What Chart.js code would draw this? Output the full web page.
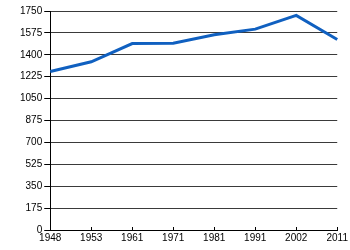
<!DOCTYPE html>
<html>
<head>
<meta charset="utf-8">
<script src="https://cdn.jsdelivr.net/npm/chart.js@4"></script>
<style>
html,body{margin:0;padding:0;background:#fff;}
#wrap{width:350px;height:250px;position:relative;}
</style>
</head>
<body>
<div id="wrap"><canvas id="c"></canvas></div>
<script>
const years = ['1948','1953','1961','1971','1981','1991','2002','2011'];
const population = [1267, 1344, 1490, 1492, 1560, 1605, 1715, 1522];
const yMin = 0;
const yMax = 1750;
const yStep = 175;

const innerTicks = {
  id: 'innerTicks',
  afterDatasetsDraw(chart) {
    const x = chart.scales.x;
    const ctx = chart.ctx;
    const bottom = chart.chartArea.bottom;
    ctx.save();
    ctx.strokeStyle = '#000';
    ctx.lineWidth = 1;
    ctx.beginPath();
    x.ticks.forEach((t, i) => {
      const px = Math.round(x.getPixelForTick(i)) + 0.5;
      ctx.moveTo(px, bottom - 3);
      ctx.lineTo(px, bottom + 1);
    });
    ctx.stroke();
    ctx.restore();
  }
};

new Chart(document.getElementById('c'), {
  type: 'line',
  data: {
    labels: years,
    datasets: [{
      data: population,
      borderColor: '#1060c0',
      borderWidth: 3,
      pointRadius: 0,
      tension: 0,
      fill: false
    }]
  },
  options: {
    responsive: true,
    maintainAspectRatio: false,
    animation: false,
    events: [],
    layout: { padding: { left: 18, right: 5, top: 11, bottom: 4 } },
    plugins: { legend: { display: false }, tooltip: { enabled: false } },
    scales: {
      x: {
        type: 'category',
        offset: false,
        grid: { display: true, drawOnChartArea: false, drawTicks: false },
        border: { display: true, color: '#000', width: 1 },
        ticks: { color: '#000', font: { family: 'Liberation Sans, Arial, sans-serif', size: 10 }, padding: 2, maxRotation: 0, autoSkip: false }
      },
      y: {
        min: yMin,
        max: yMax,
        grid: { color: '#3a3a3a', lineWidth: 1, drawTicks: true, tickLength: 6, tickColor: '#000' },
        border: { display: true, color: '#000', width: 1 },
        ticks: { stepSize: yStep, color: '#000', font: { family: 'Liberation Sans, Arial, sans-serif', size: 10 }, padding: 2, callback: v => String(v) }
      }
    }
  },
  plugins: [innerTicks]
});
</script>
</body>
</html>
